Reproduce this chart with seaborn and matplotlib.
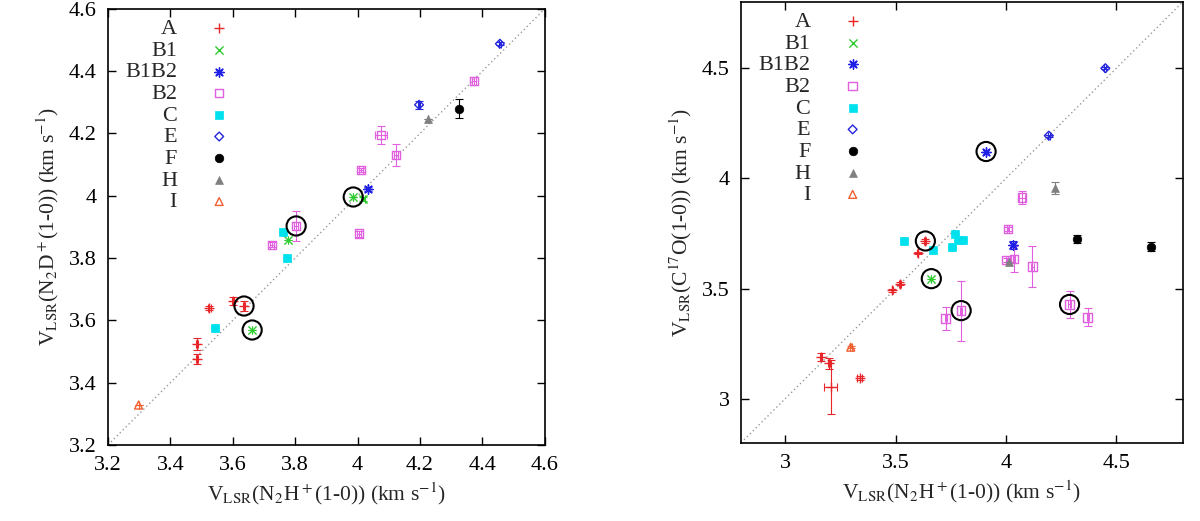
import numpy as np
import pandas as pd
import matplotlib
matplotlib.use("Agg")
import matplotlib.pyplot as plt
import seaborn as sns

# ---- data: left panel, N2D+ vs N2H+ ----
left_group = ["A", "A", "A", "A", "A",
              "B1", "B1", "B1", "B1",
              "B1B2",
              "B2", "B2", "B2", "B2", "B2", "B2", "B2",
              "C", "C", "C",
              "E", "E",
              "F", "H", "I"]
left_x = [3.524, 3.600, 3.636, 3.485, 3.485,
          3.986, 4.018, 3.777, 3.662,
          4.033,
          4.373, 4.075, 4.123, 4.011, 4.005, 3.803, 3.726,
          3.760, 3.775, 3.543,
          4.456, 4.197,
          4.325, 4.226, 3.298]
left_y = [3.640, 3.662, 3.646, 3.524, 3.476,
          3.996, 3.990, 3.858, 3.569,
          4.022,
          4.369, 4.195, 4.131, 4.083, 3.878, 3.903, 3.842,
          3.884, 3.800, 3.576,
          4.488, 4.292,
          4.279, 4.247, 3.328]
left_xerr = [0.005, 0.004, 0.004, 0.004, 0.004,
             0.0, 0.006, 0.0, 0.0,
             0.0,
             0.005, 0.020, 0.005, 0.006, 0.006, 0.006, 0.006,
             0.0, 0.0, 0.0,
             0.003, 0.003,
             0.0, 0.0, 0.0]
left_yerr = [0.006, 0.012, 0.015, 0.018, 0.017,
             0.0, 0.006, 0.0, 0.0,
             0.006,
             0.012, 0.028, 0.034, 0.006, 0.010, 0.048, 0.008,
             0.0, 0.0, 0.0,
             0.005, 0.012,
             0.030, 0.0, 0.0]
left_circ_x = [3.986, 3.803, 3.636, 3.662]
left_circ_y = [3.996, 3.903, 3.646, 3.569]

# ---- data: right panel, C17O vs N2H+ ----
right_group = ["A"] * 8 + ["B1"] + ["B1B2"] * 2 + ["B2"] * 9 + ["C"] * 6 \
    + ["E"] * 2 + ["F"] * 2 + ["H"] * 2 + ["I"]
right_x = [3.635, 3.600, 3.520, 3.486, 3.162, 3.198, 3.207, 3.338,
           3.662,
           3.910, 4.030,
           4.072, 4.010, 4.003, 4.036, 4.120, 4.288, 4.370, 3.727, 3.797,
           3.540, 3.670, 3.757, 3.770, 3.785, 3.806,
           4.450, 4.194,
           4.320, 4.657,
           4.220, 4.015,
           3.297]
right_y = [3.716, 3.660, 3.523, 3.492, 3.189, 3.162, 3.054, 3.095,
           3.545,
           4.122, 3.698,
           3.913, 3.770, 3.630, 3.635, 3.600, 3.428, 3.370, 3.365, 3.400,
           3.716, 3.676, 3.690, 3.746, 3.720, 3.720,
           4.500, 4.194,
           3.725, 3.690,
           3.955, 3.620,
           3.234]
right_xerr = [0.005, 0.003, 0.003, 0.003, 0.003, 0.003, 0.029, 0.012,
              0.0,
              0.0, 0.0,
              0.015, 0.005, 0.005, 0.005, 0.005, 0.005, 0.005, 0.005, 0.005,
              0.0, 0.0, 0.0, 0.0, 0.0, 0.0,
              0.005, 0.005,
              0.0, 0.0,
              0.0, 0.0,
              0.005]
right_yerr = [0.010, 0.005, 0.005, 0.008, 0.017, 0.025, 0.124, 0.010,
              0.0,
              0.0, 0.020,
              0.030, 0.010, 0.008, 0.060, 0.094, 0.060, 0.040, 0.053, 0.136,
              0.0, 0.0, 0.0, 0.0, 0.0, 0.0,
              0.005, 0.005,
              0.020, 0.020,
              0.028, 0.0,
              0.005]
right_circ_x = [3.910, 3.635, 3.662, 3.797, 4.288]
right_circ_y = [4.122, 3.716, 3.545, 3.400, 3.428]

group_order = ["A", "B1", "B1B2", "B2", "C", "E", "F", "H", "I"]

# marker, colour, filled?, size
styles = {
    "A":    ("+", "#e8262a", None, 45),
    "B1":   ("x", "#2ecc2e", None, 35),
    "B1B2": ((8, 2, 0), "#1f1fe6", None, 45),
    "B2":   ("s", "#e060e0", False, 38),
    "C":    ("s", "#00e1ee", True, 34),
    "E":    ("D", "#2626dd", False, 20),
    "F":    ("o", "black", True, 38),
    "H":    ("^", "#808080", True, 32),
    "I":    ("^", "#f06030", False, 32),
}

sns.set_theme(style="ticks")
plt.rcParams["font.family"] = ["Liberation Serif", "DejaVu Serif"]
plt.rcParams["mathtext.fontset"] = "stix"


def draw_panel(ax, df, circ_x, circ_y, lims, ticks, ylabel, leg_anchor):
    ax.axline((lims[0], lims[0]), slope=1, color="#999999",
              linestyle=(0, (1, 2)), linewidth=1.0, zorder=1)
    for g in group_order:
        sub = df[df["group"] == g]
        if sub.empty:
            continue
        marker, col, filled, size = styles[g]
        ax.errorbar(sub["x"], sub["y"], xerr=sub["xerr"], yerr=sub["yerr"],
                    fmt="none", ecolor=col, elinewidth=0.8, capsize=3,
                    capthick=0.8, zorder=2)
        kw = dict(x=sub["x"].values, y=sub["y"].values, ax=ax, marker=marker,
                  s=size, label=g, zorder=3)
        if filled is None:
            kw.update(color=col, linewidth=1.0)
        elif filled:
            kw.update(color=col, edgecolor=col, linewidth=0.5)
        else:
            kw.update(facecolor="none", edgecolor=col, linewidth=1.0)
        sns.scatterplot(**kw)
    ax.scatter(circ_x, circ_y, s=190, facecolor="none", edgecolor="black",
               linewidth=1.5, zorder=4)

    ax.set_xlim(lims)
    ax.set_ylim(lims)
    ax.set_xticks(ticks)
    ax.set_yticks(ticks)
    ax.set_xticklabels([f"{t:g}" for t in ticks])
    ax.set_yticklabels([f"{t:g}" for t in ticks])
    ax.tick_params(direction="in", length=6, width=1.0, top=True, right=True,
                   labelsize=16, pad=8, colors="black")
    for sp in ax.spines.values():
        sp.set_linewidth(1.2)
        sp.set_color("black")
    ax.set_xlabel(r"V$_{\rm LSR}$(N$_2$H$^+$(1-0)) (km s$^{-1}$)",
                  fontsize=15.5, labelpad=4)
    ax.set_ylabel(ylabel, fontsize=15.5, labelpad=6)

    leg = ax.legend(loc="upper right", bbox_to_anchor=leg_anchor,
                    frameon=False, markerfirst=False, scatterpoints=1,
                    handlelength=1.0, handletextpad=1.4, labelspacing=0.05,
                    borderpad=0, borderaxespad=0, fontsize=16)
    return leg


left_df = pd.DataFrame({"group": left_group, "x": left_x, "y": left_y,
                        "xerr": left_xerr, "yerr": left_yerr})
right_df = pd.DataFrame({"group": right_group, "x": right_x, "y": right_y,
                         "xerr": right_xerr, "yerr": right_yerr})

fig = plt.figure(figsize=(12, 5.21), dpi=100)
ax1 = fig.add_axes([0.090, 0.146, 0.364, 0.837])
ax2 = fig.add_axes([0.6175, 0.150, 0.368, 0.846])

draw_panel(ax1, left_df, left_circ_x, left_circ_y, (3.2, 4.6),
           [3.2, 3.4, 3.6, 3.8, 4.0, 4.2, 4.4, 4.6],
           r"V$_{\rm LSR}$(N$_2$D$^+$(1-0)) (km s$^{-1}$)", (0.28, 0.978))
draw_panel(ax2, right_df, right_circ_x, right_circ_y, (2.8, 4.8),
           [3.0, 3.5, 4.0, 4.5],
           r"V$_{\rm LSR}$(C$^{17}$O(1-0)) (km s$^{-1}$)", (0.278, 0.979))

fig.savefig("out.png", dpi=100)
